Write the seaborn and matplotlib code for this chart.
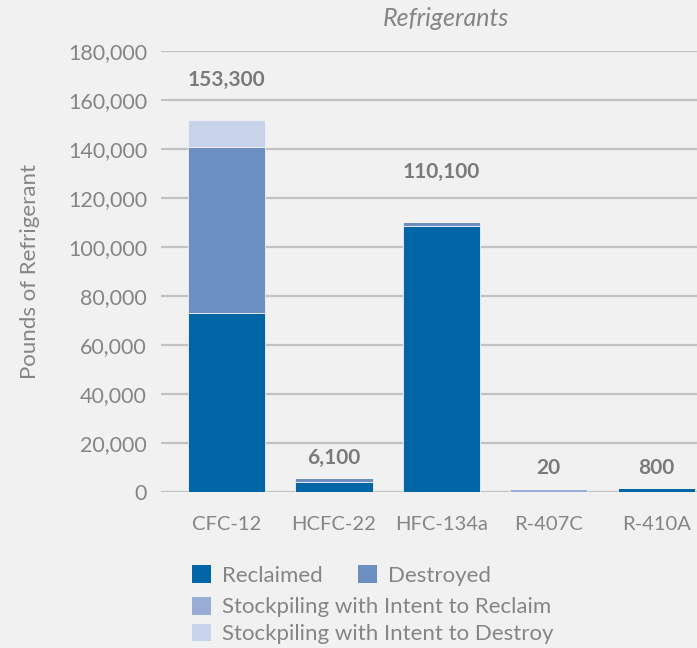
import pandas as pd
import numpy as np
import matplotlib.pyplot as plt
import seaborn as sns
from matplotlib.patches import Patch

# data
refrigerants = ['CFC-12', 'HCFC-22', 'HFC-134a', 'R-407C', 'R-410A']
reclaimed = [73000, 4000, 108600, 0, 1700]
destroyed = [67800, 1900, 1500, 0, 0]
stock_reclaim = [0, 0, 0, 1100, 0]
stock_destroy = [11000, 0, 0, 0, 0]
total_labels = ['153,300', '6,100', '110,100', '20', '800']
label_heights = [168000, 14000, 130500, 10000, 10000]

series = ['Reclaimed', 'Destroyed', 'Stockpiling with Intent to Reclaim',
          'Stockpiling with Intent to Destroy']
colors = ['#0066a6', '#6b8fc0', '#97add5', '#c6d3e9']
bg = '#f1f1f1'
grey = '#858585'

df = pd.DataFrame({'refrigerant': refrigerants, 'Reclaimed': reclaimed,
                   'Destroyed': destroyed,
                   'Stockpiling with Intent to Reclaim': stock_reclaim,
                   'Stockpiling with Intent to Destroy': stock_destroy})

sns.set_theme(style='white')
plt.rcParams['font.family'] = ['Lato', 'DejaVu Sans']

fig = plt.figure(figsize=(6.97, 6.48), dpi=100, facecolor=bg)
ax = fig.add_axes([0.231, 0.2407, 0.769, 0.6806], facecolor=bg)

# stacked bars
bottom = np.zeros(len(df))
for name, col in zip(series, colors):
    sns.barplot(data=df, x='refrigerant', y=name, color=col, width=0.72,
                bottom=bottom, ax=ax, edgecolor=bg, linewidth=0.6,
                saturation=1, zorder=3)
    bottom = bottom + df[name].values

for i, (txt, h) in enumerate(zip(total_labels, label_heights)):
    ax.text(i, h, txt, ha='center', va='center', fontsize=15,
            fontweight='bold', color='#7a7a7a')

ax.set_ylim(0, 180000)
ax.set_xlim(-0.61, 4.38)
ax.set_yticks(range(0, 180001, 20000))
ax.set_yticklabels([f'{v:,}' for v in range(0, 180001, 20000)])
ax.yaxis.grid(True, color='#c2c2c2', linewidth=1.6, zorder=0)
ax.set_axisbelow(True)
for s in ax.spines.values():
    s.set_visible(False)
ax.tick_params(axis='y', length=0, labelsize=15.5, colors=grey, pad=10)
ax.tick_params(axis='x', length=0, labelsize=14.5, colors=grey, pad=17)
ax.set_xlabel('')
ax.set_ylabel('Pounds of Refrigerant', fontsize=16, color=grey, labelpad=20)
ax.set_title('Refrigerants', fontsize=18, style='italic', color=grey,
             x=0.532, pad=18)

# legend: two on first row, then one per row
h = [Patch(facecolor=c, edgecolor='none') for c in colors]
kw = dict(frameon=False, fontsize=16, labelcolor=grey, handlelength=0.85,
          handleheight=0.85, handletextpad=0.5, borderpad=0, labelspacing=0.28)
leg1 = fig.legend(h[:2], series[:2], loc='upper left', ncol=2,
                  bbox_to_anchor=(0.259, 0.145), columnspacing=1.6, **kw)
leg2 = fig.legend(h[2:], series[2:], loc='upper left', ncol=1,
                  bbox_to_anchor=(0.259, 0.096), **kw)

fig.savefig('out.png', dpi=100, facecolor=bg)
